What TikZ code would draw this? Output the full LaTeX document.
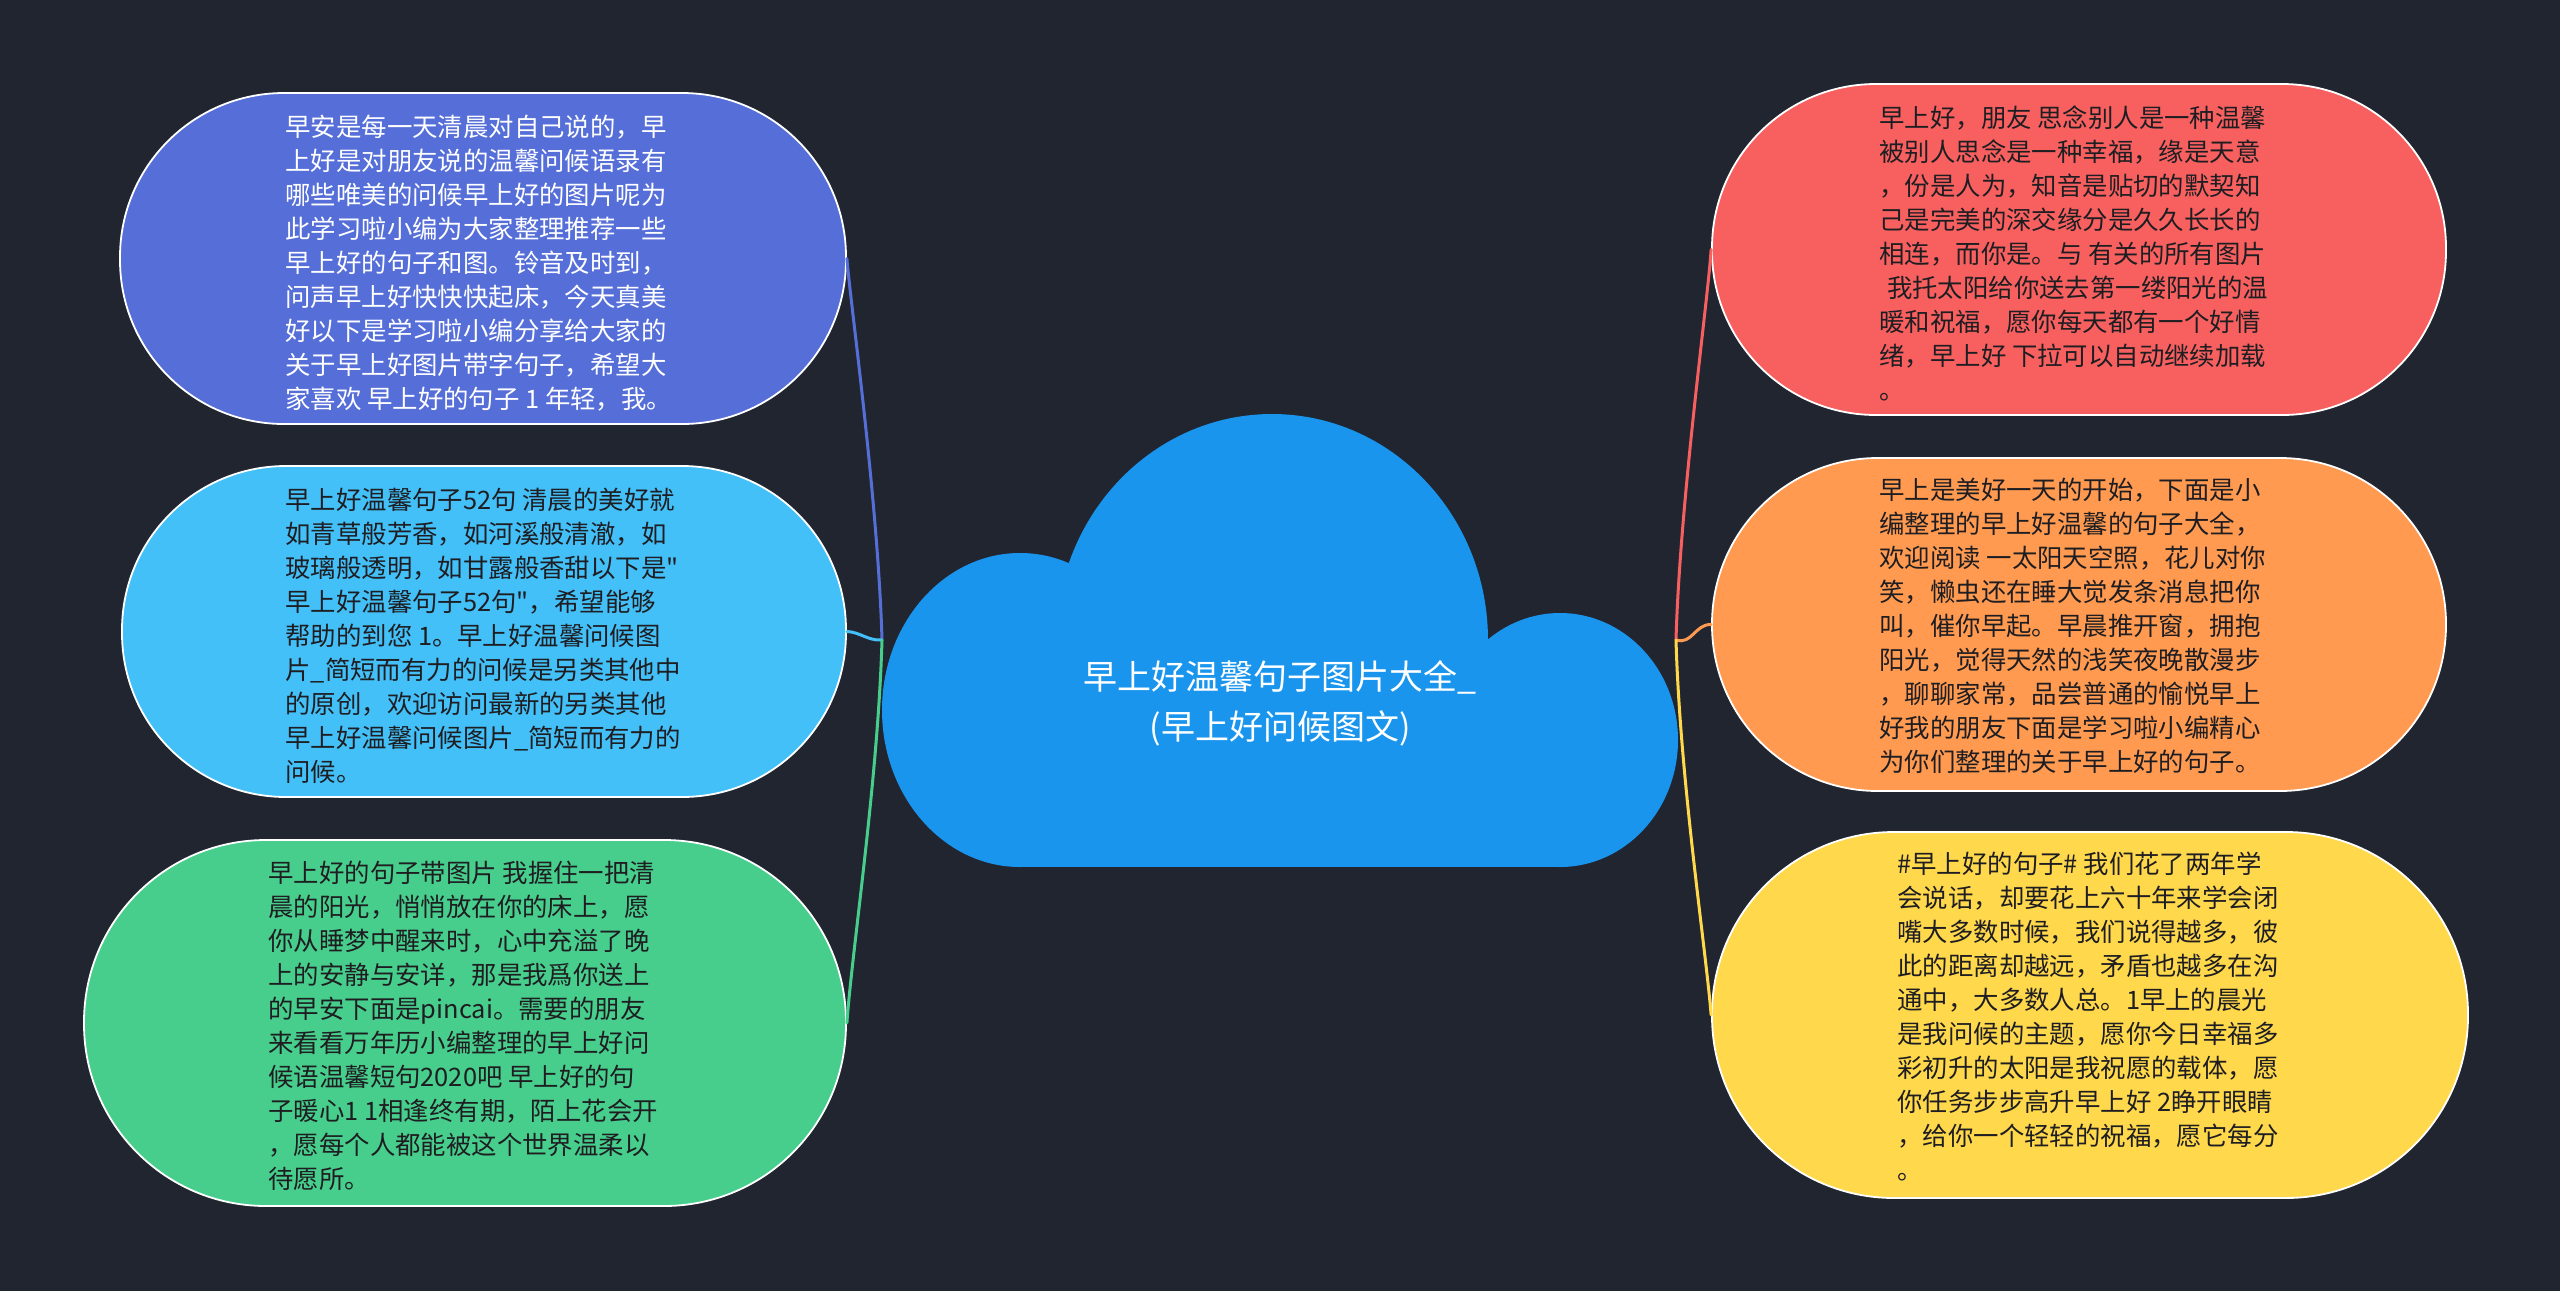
\documentclass[tikz,border=0pt]{standalone}
\usepackage{fontspec}
\newfontfamily\cjk{Noto Sans CJK SC}
\definecolor{bg}{HTML}{212530}
\definecolor{cloudc}{HTML}{1A95EE}
\definecolor{cA}{HTML}{566FD8}
\definecolor{cB}{HTML}{44C0F8}
\definecolor{cC}{HTML}{48CE8C}
\definecolor{cD}{HTML}{F86060}
\definecolor{cE}{HTML}{FF9A50}
\definecolor{cF}{HTML}{FFD84C}
\definecolor{txt}{HTML}{1E1E22}
\begin{document}
\begin{tikzpicture}[x=0.5pt,y=-0.5pt,
  pill/.style={draw=white, line width=0.9pt, inner sep=0pt, rectangle},
  body/.style={anchor=west, align=left, inner sep=0pt, text=txt,
    font={\fontsize{12.7pt}{17pt}\cjk}},
  conn/.style={line width=1.5pt, line cap=round}]
\path[use as bounding box, fill=bg] (0,0) rectangle (2560,1291);

% cloud
\fill[cloudc] (1272,640) ellipse [x radius=108pt, y radius=113pt];
\fill[cloudc] (1020,710) ellipse [x radius=69pt, y radius=78.5pt];
\fill[cloudc] (1560,740) ellipse [x radius=59pt, y radius=63.5pt];
\fill[cloudc] (1020,650) rectangle (1560,867);
\node[align=center, text=white, inner sep=0pt, font={\fontsize{17pt}{25pt}\cjk}] (root) at (1280,703)
  {早上好温馨句子图片大全\_\\(早上好问候图文)};
\coordinate (jl) at (882,640);
\coordinate (jr) at (1676,640);

% left boxes
\node[pill, fill=cA, minimum width=363pt, minimum height=165.5pt, rounded corners=82pt] (b1) at (483,258.5) {};
\node[body, text=white] (t1) at (285,263) {早安是每一天清晨对自己说的，早\\
上好是对朋友说的温馨问候语录有\\
哪些唯美的问候早上好的图片呢为\\
此学习啦小编为大家整理推荐一些\\
早上好的句子和图。铃音及时到，\\
问声早上好快快快起床，今天真美\\
好以下是学习啦小编分享给大家的\\
关于早上好图片带字句子，希望大\\
家喜欢 早上好的句子 1 年轻，我。};

\node[pill, fill=cB, minimum width=362pt, minimum height=165.5pt, rounded corners=82pt] (b2) at (484,631.5) {};
\node[body] (t2) at (285,636) {早上好温馨句子52句 清晨的美好就\\
如青草般芳香，如河溪般清澈，如\\
玻璃般透明，如甘露般香甜以下是"\\
早上好温馨句子52句"，希望能够\\
帮助的到您 1。早上好温馨问候图\\
片\_简短而有力的问候是另类其他中\\
的原创，欢迎访问最新的另类其他\\
早上好温馨问候图片\_简短而有力的\\
问候。};

\node[pill, fill=cC, minimum width=381pt, minimum height=183pt, rounded corners=91pt] (b3) at (465,1023) {};
\node[body] (t3) at (268,1026) {早上好的句子带图片 我握住一把清\\
晨的阳光，悄悄放在你的床上，愿\\
你从睡梦中醒来时，心中充溢了晚\\
上的安静与安详，那是我爲你送上\\
的早安下面是pincai。需要的朋友\\
来看看万年历小编整理的早上好问\\
候语温馨短句2020吧 早上好的句\\
子暖心1 1相逢终有期，陌上花会开\\
，愿每个人都能被这个世界温柔以\\
待愿所。};

% right boxes
\node[pill, fill=cD, minimum width=367pt, minimum height=165.5pt, rounded corners=82pt] (b4) at (2079,249.5) {};
\node[body] (t4) at (1879,253) {早上好，朋友 思念别人是一种温馨\\
被别人思念是一种幸福，缘是天意\\
，份是人为，知音是贴切的默契知\\
己是完美的深交缘分是久久长长的\\
相连，而你是。与 有关的所有图片\\
\hspace*{0.3em}我托太阳给你送去第一缕阳光的温\\
暖和祝福，愿你每天都有一个好情\\
绪，早上好 下拉可以自动继续加载\\
。};

\node[pill, fill=cE, minimum width=367pt, minimum height=166.5pt, rounded corners=83pt] (b5) at (2079,624.5) {};
\node[body] (t5) at (1879,626) {早上是美好一天的开始，下面是小\\
编整理的早上好温馨的句子大全，\\
欢迎阅读 一太阳天空照，花儿对你\\
笑，懒虫还在睡大觉发条消息把你\\
叫，催你早起。早晨推开窗，拥抱\\
阳光，觉得天然的浅笑夜晚散漫步\\
，聊聊家常，品尝普通的愉悦早上\\
好我的朋友下面是学习啦小编精心\\
为你们整理的关于早上好的句子。};

\node[pill, fill=cF, minimum width=378pt, minimum height=183pt, rounded corners=91pt] (b6) at (2090,1015) {};
\node[body] (t6) at (1897,1016) {\#早上好的句子\# 我们花了两年学\\
会说话，却要花上六十年来学会闭\\
嘴大多数时候，我们说得越多，彼\\
此的距离却越远，矛盾也越多在沟\\
通中，大多数人总。1早上的晨光\\
是我问候的主题，愿你今日幸福多\\
彩初升的太阳是我祝愿的载体，愿\\
你任务步步高升早上好 2睁开眼睛\\
，给你一个轻轻的祝福，愿它每分\\
。};

% connectors
\draw[conn, cA] (jl) .. controls (878,500) and (850,300) .. (b1.east);
\draw[conn, cB] (jl) .. controls (868,641) and (860,632) .. (b2.east);
\draw[conn, cC] (jl) .. controls (878,780) and (852,950) .. (b3.east);
\draw[conn, cD] (jr) .. controls (1680,500) and (1708,300) .. (b4.west);
\draw[conn, cE] (jr) .. controls (1692,645) and (1695,624) .. (b5.west);
\draw[conn, cF] (jr) .. controls (1680,780) and (1706,950) .. (b6.west);
\end{tikzpicture}
\end{document}
